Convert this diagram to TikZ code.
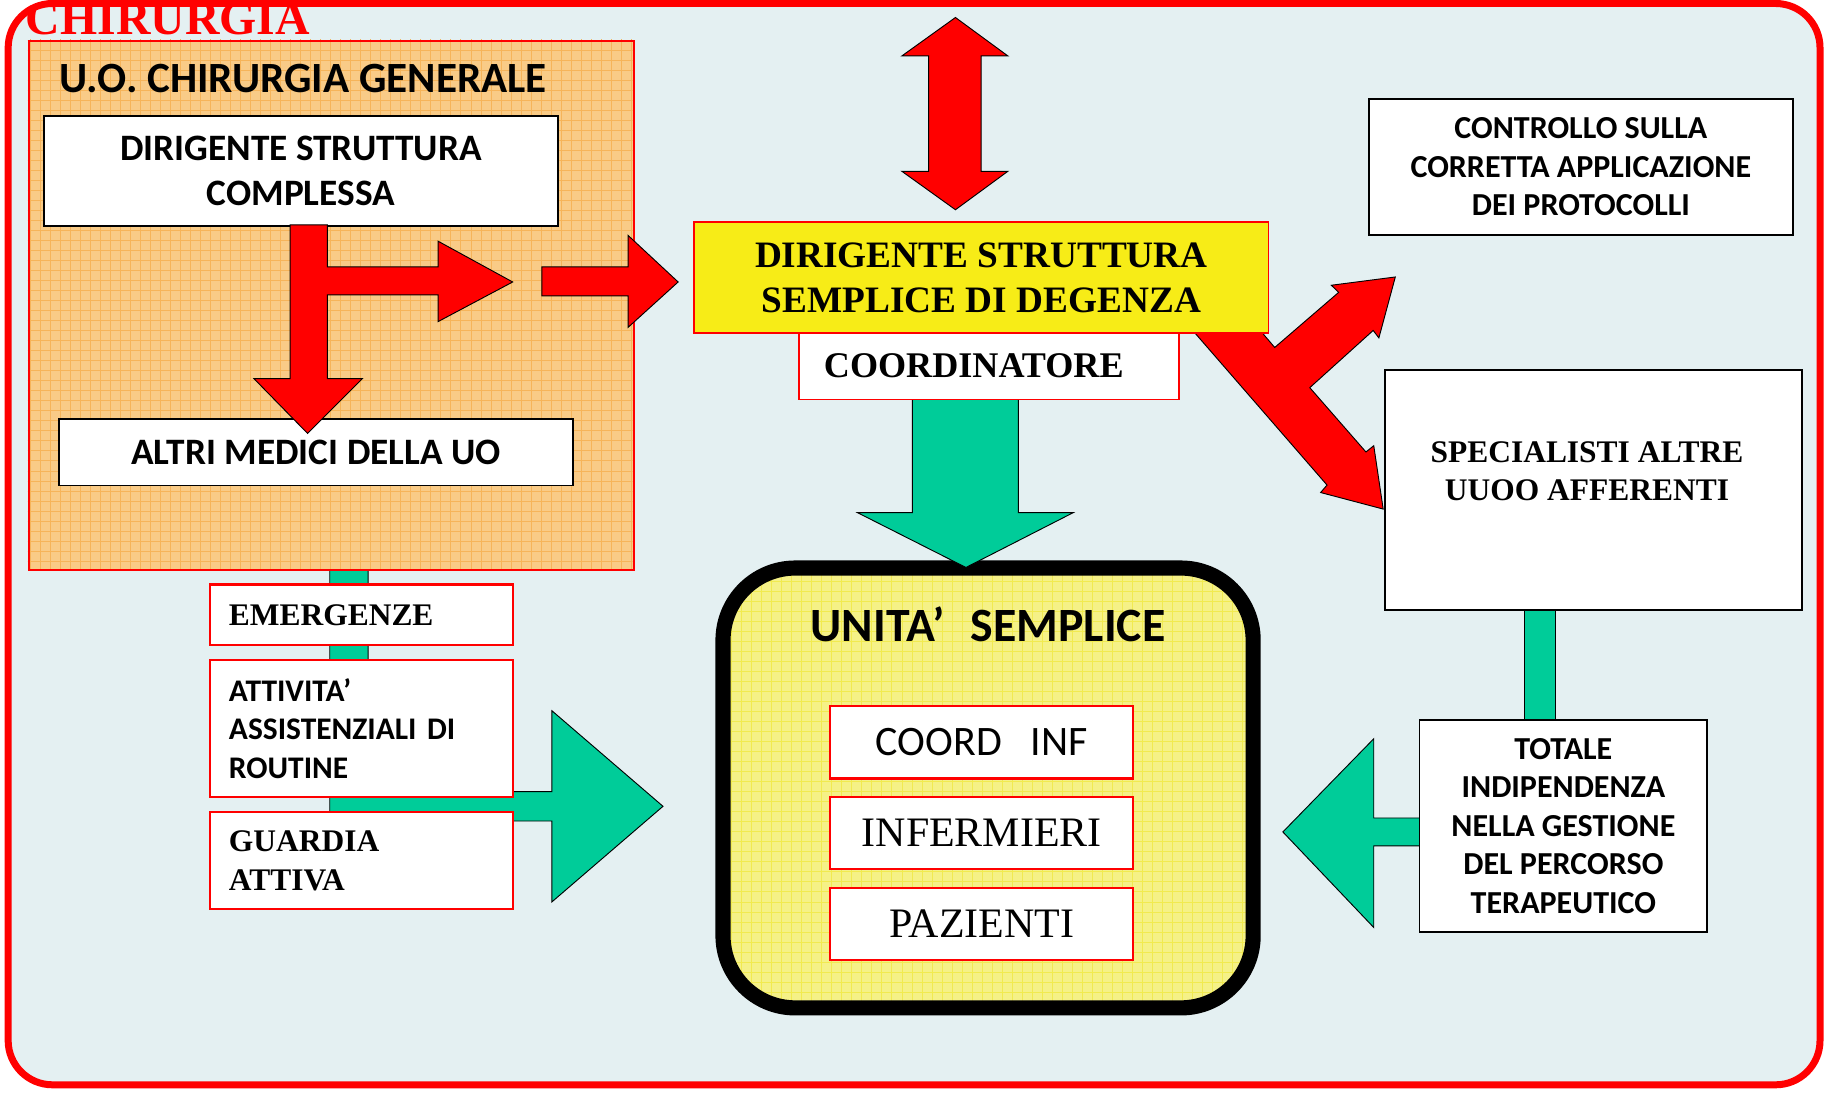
\documentclass[tikz,border=0pt]{standalone}
\usepackage{fontspec}
\setmainfont{Liberation Serif}
\newfontfamily\calib{Carlito}
\definecolor{bgc}{RGB}{228,240,242}
\definecolor{orangef}{RGB}{249,203,135}
\definecolor{orangel}{RGB}{246,180,90}
\definecolor{yel}{RGB}{247,236,23}
\definecolor{paleyel}{RGB}{245,241,135}
\definecolor{paleyell}{RGB}{241,234,80}
\definecolor{grn}{RGB}{0,204,153}
\begin{document}
\begin{tikzpicture}[x=1pt,y=-1pt,
  bbox/.style={draw=black,line width=1.5pt,fill=white,inner sep=0pt,anchor=north west,align=center},
  rbox/.style={draw=red,line width=2pt,fill=white,inner sep=0pt,anchor=north west,align=center},
  redarrow/.style={fill=red,draw=black,line width=0.8pt},
  grnarrow/.style={fill=grn,draw=black,line width=0.8pt},
  lbox/.style={rbox,minimum width=260pt,text width=227pt,inner xsep=16.5pt,align=left}
]
\useasboundingbox (0,0) rectangle (1568,938);
% outer frame
\draw[red,line width=6pt,fill=bgc,rounded corners=38pt] (7,3) rectangle (1562,931);

% left green arrow
\draw[grnarrow] (283,488) -- (283,704.6) -- (473.7,704.6) -- (473.7,774) -- (569,692)
  -- (473.7,610) -- (473.7,679.4) -- (316,679.4) -- (316,488) -- cycle;

% orange unit
\fill[orangef] (24,34) rectangle (543,488);
\begin{scope}
  \clip (24,34) rectangle (543,488);
  \draw[orangel,line width=0.8pt,step=8.6pt] (20,30) grid (550,495);
\end{scope}
\node[draw=red,line width=2pt,anchor=north west,inner sep=0pt,
  minimum width=519pt,minimum height=454pt] (uo) at (24,34) {};
\node[font=\calib\bfseries\fontsize{37}{40}\selectfont,inner sep=0pt] (uotitle) at (260,67) {U.O. CHIRURGIA GENERALE};
\node[bbox,minimum width=441pt,minimum height=94pt,font=\calib\bfseries\fontsize{32}{38}\selectfont] (dsc) at (37,99) {DIRIGENTE STRUTTURA\\COMPLESSA};
\node[bbox,minimum width=441pt,minimum height=57pt,font=\calib\bfseries\fontsize{32}{38}\selectfont] (altri) at (50,359) {ALTRI MEDICI DELLA UO};

% red arrows inside orange
\draw[redarrow] (249,193) -- (249,325) -- (218,325) -- (264,372) -- (311,325) -- (281,325)
  -- (281,253) -- (376,253) -- (376,276) -- (440,242) -- (376,207) -- (376,229) -- (281,229) -- (281,193) -- cycle;
\draw[redarrow] (465,229) -- (539,229) -- (539,202) -- (582,242) -- (539,281) -- (539,254) -- (465,254) -- cycle;

% top double arrow
\draw[redarrow] (820,15) -- (865,48) -- (842,48) -- (842,147) -- (865,147) -- (820,180)
  -- (774,147) -- (797,147) -- (797,48) -- (774,48) -- cycle;

% fork arrow
\draw[redarrow] (1020.5,280) -- (1078.5,280) -- (1094,298.2) -- (1148.9,250.9) -- (1142.6,244.8)
  -- (1197.5,237.7) -- (1183.4,290) -- (1178.5,283.6) -- (1124.1,332.7) -- (1172.3,387.9)
  -- (1179,382.5) -- (1187.1,436.9) -- (1133.4,422.7) -- (1138.9,416.3) -- cycle;

% DSS box
\node[draw=red,line width=1.5pt,fill=yel,inner sep=0pt,anchor=north west,align=center,
  minimum width=493pt,minimum height=95pt,font=\bfseries\fontsize{32}{39}\selectfont] (dss) at (595,190)
  {DIRIGENTE STRUTTURA\\SEMPLICE DI DEGENZA};

% Unita semplice
\fill[paleyel,rounded corners=62pt] (620.5,487.5) rectangle (1075.5,865);
\begin{scope}
  \clip[rounded corners=62pt] (620.5,487.5) rectangle (1075.5,865);
  \draw[paleyell,line width=0.6pt,step=8.6pt] (615,480) grid (1080,870);
\end{scope}
\draw[line width=13pt,rounded corners=62pt] (620.5,487.5) rectangle (1075.5,865);
\node[font=\calib\bfseries\fontsize{41}{44}\selectfont,inner sep=0pt] (us) at (848,535.5) {UNITA’\hspace{22pt}SEMPLICE};
\node[rbox,minimum width=260pt,minimum height=62pt,font=\calib\fontsize{36}{40}\selectfont] (coordinf) at (711.6,605) {COORD\hspace{25pt}INF};
\node[rbox,minimum width=260pt,minimum height=62pt,font=\fontsize{36}{40}\selectfont] (inf) at (711.6,683) {INFERMIERI};
\node[rbox,minimum width=260pt,minimum height=62pt,font=\fontsize{36}{40}\selectfont] (paz) at (711.6,761) {PAZIENTI};

% green down arrow
\draw[grnarrow] (783,342) -- (783,440) -- (736,440) -- (829,487) -- (921,440) -- (874,440) -- (874,342) -- cycle;

% coordinatore
\node[rbox,line width=1.5pt,minimum width=326pt,minimum height=57pt,font=\bfseries\fontsize{31}{38}\selectfont] (coord) at (685,285) {COORDINATORE\hspace*{26pt}};

% right side
\node[bbox,minimum width=364pt,minimum height=117pt,font=\calib\bfseries\fontsize{27.5}{33}\selectfont] (ctrl) at (1174,84) {CONTROLLO SULLA\\CORRETTA APPLICAZIONE\\DEI PROTOCOLLI};

\draw[grnarrow] (1308,520) rectangle (1335,620);
\node[bbox,minimum width=358pt,minimum height=206pt] (spec) at (1188,317) {};
\node[font=\bfseries\fontsize{27}{33}\selectfont,align=center,inner sep=0pt] (spectext) at (1362,404.5) {SPECIALISTI ALTRE\\UUOO AFFERENTI};

\draw[grnarrow] (1220,702) -- (1179,702) -- (1179,634) -- (1101,714) -- (1179,796) -- (1179,726) -- (1220,726) -- cycle;
\node[bbox,minimum width=247pt,minimum height=182pt,font=\calib\bfseries\fontsize{27.5}{33}\selectfont] (tot) at (1217.5,617) {TOTALE\\INDIPENDENZA\\NELLA GESTIONE\\DEL PERCORSO\\TERAPEUTICO};

% left boxes
\node[lbox,minimum height=52pt,font=\bfseries\fontsize{27}{33.5}\selectfont] (emerg) at (179,500.6) {EMERGENZE};
\node[lbox,minimum height=117.4pt,font=\calib\bfseries\fontsize{27}{33}\selectfont] (att) at (179,565.6) {ATTIVITA’\\ASSISTENZIALI DI\\ROUTINE};
\node[lbox,minimum height=83.2pt,font=\bfseries\fontsize{27}{33.5}\selectfont] (guard) at (179,695.8) {GUARDIA\\ATTIVA};

% title
\node[anchor=base west,inner sep=0pt,text=red,font=\bfseries\fontsize{41}{44}\selectfont] (chir) at (22,30) {CHIRURGIA};
\end{tikzpicture}
\end{document}
